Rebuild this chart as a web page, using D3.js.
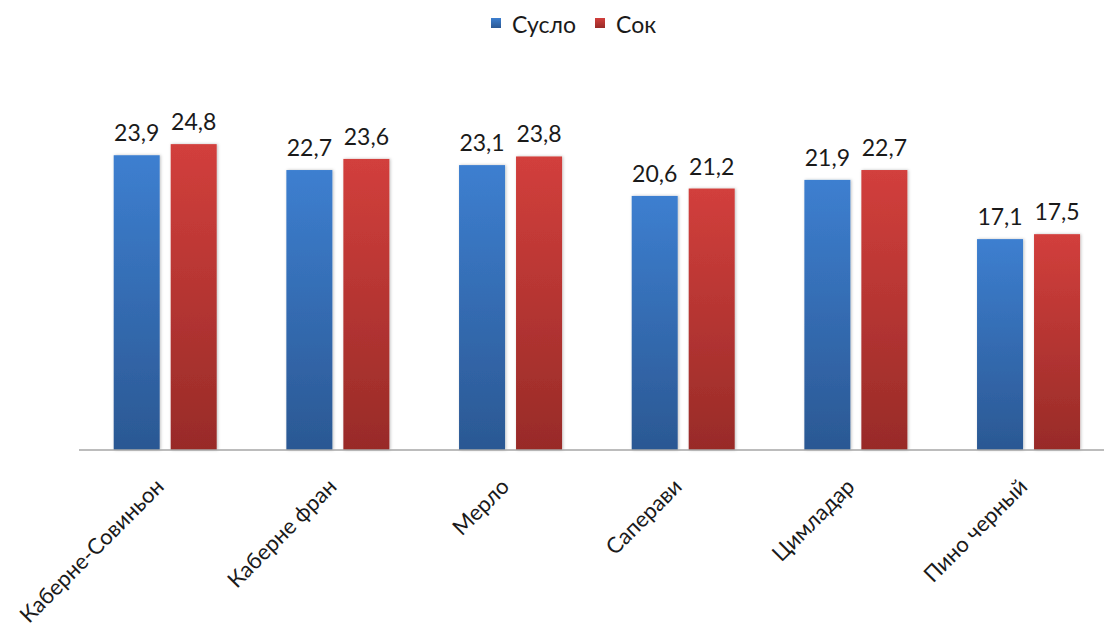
<!DOCTYPE html>
<html>
<head>
<meta charset="utf-8">
<script src="https://cdn.jsdelivr.net/npm/d3@7"></script>
<style>
  html, body { margin: 0; padding: 0; background: #fff; }
  svg { display: block; font-family: Lato, "Open Sans", sans-serif; }
</style>
</head>
<body>
<svg id="chart" width="1104" height="635"></svg>
<script>
// Grape varieties and sugar content for must and juice
const categories = ["Каберне-Совиньон", "Каберне фран", "Мерло", "Саперави", "Цимладар", "Пино черный"];
const seriesNames = ["Сусло", "Сок"];
const mustValues = [23.9, 22.7, 23.1, 20.6, 21.9, 17.1];
const juiceValues = [24.8, 23.6, 23.8, 21.2, 22.7, 17.5];

const svg = d3.select("#chart");
const margin = { left: 79, right: -11, top: 80, bottom: 185 };
const W = 1104, H = 635;
const baseY = H - margin.bottom;
const fontStack = "Lato, 'Open Sans', sans-serif";

const x = d3.scaleBand().domain(categories).range([margin.left, W - margin.right]);
const xs = d3.scaleBand().domain(seriesNames).range([34.7, 34.7 + 103]).paddingInner(0.193);
const y = d3.scaleLinear().domain([0, 30]).range([baseY, margin.top]);

const defs = svg.append("defs");
const grads = [
  { id: "gBlue", top: "#3d7fd0", bottom: "#2b5893" },
  { id: "gRed", top: "#d23f3c", bottom: "#982b28" }
];
grads.forEach(g => {
  const lg = defs.append("linearGradient").attr("id", g.id).attr("x1", 0).attr("y1", 0).attr("x2", 0).attr("y2", 1);
  lg.append("stop").attr("offset", "0%").attr("stop-color", g.top);
  lg.append("stop").attr("offset", "100%").attr("stop-color", g.bottom);
});
const shadow = defs.append("filter").attr("id", "shadow").attr("x", "-20%").attr("y", "-5%").attr("width", "140%").attr("height", "110%");
shadow.append("feDropShadow").attr("dx", 1).attr("dy", 0).attr("stdDeviation", 1.5).attr("flood-color", "#000").attr("flood-opacity", 0.25);

const fills = ["url(#gBlue)", "url(#gRed)"];
const series = [mustValues, juiceValues];
const fmt = v => d3.format(".1f")(v).replace(".", ",");

series.forEach((vals, si) => {
  const g = svg.append("g");
  g.selectAll("rect").data(vals).join("rect")
    .attr("x", (d, i) => x(categories[i]) + xs(seriesNames[si]))
    .attr("y", d => y(d))
    .attr("width", xs.bandwidth())
    .attr("height", d => y(0) - y(d))
    .attr("fill", fills[si])
    .attr("filter", "url(#shadow)");
  g.selectAll("text").data(vals).join("text")
    .attr("x", (d, i) => x(categories[i]) + xs(seriesNames[si]) + xs.bandwidth() / 2)
    .attr("y", d => y(d) - 14)
    .attr("text-anchor", "middle")
    .attr("font-size", 23)
    .attr("fill", "#1a1a1a")
    .text(fmt);
});

// category axis
const axis = d3.axisBottom(x).tickSize(0).tickPadding(0);
const ax = svg.append("g").attr("transform", `translate(0,${baseY})`).call(axis);
ax.select(".domain").attr("stroke", "#a6a6a6").attr("stroke-width", 1.5)
  .attr("d", `M${margin.left},0H${W}`);
ax.selectAll(".tick text")
  .attr("font-family", fontStack)
  .attr("font-size", 22)
  .attr("fill", "#1a1a1a")
  .attr("text-anchor", "end")
  .attr("dy", 0)
  .attr("transform", "translate(0,38) rotate(-45)");

// legend
const legend = svg.append("g").attr("transform", "translate(491,0)");
const legendItems = [
  { name: seriesNames[0], fill: fills[0], x: 0 },
  { name: seriesNames[1], fill: fills[1], x: 104 }
];
legendItems.forEach(it => {
  legend.append("rect").attr("x", it.x).attr("y", 18).attr("width", 10).attr("height", 10).attr("fill", it.fill);
  legend.append("text").attr("x", it.x + 21).attr("y", 33).attr("font-size", 23).attr("fill", "#1a1a1a").text(it.name);
});
</script>
</body>
</html>
